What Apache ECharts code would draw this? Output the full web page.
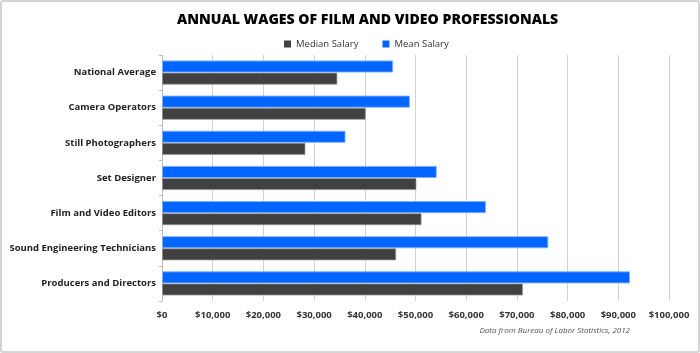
<!DOCTYPE html>
<html><head><meta charset="utf-8">
<script src="https://cdn.jsdelivr.net/npm/echarts@6/dist/echarts.min.js"></script>
<style>
html,body{margin:0;padding:0;background:#fff;}
#frame{position:absolute;left:0;top:0;width:696px;height:349px;border:2px solid #d4d4d4;border-radius:3px;}
#c{position:absolute;left:0;top:0;width:700px;height:353px;}
</style></head>
<body><div id="frame"></div><div id="c"></div>
<script>
const categories = ["National Average","Camera Operators","Still Photographers","Set Designer","Film and Video Editors","Sound Engineering Technicians","Producers and Directors"];
const medianSalary = [34600, 40200, 28300, 50200, 51200, 46200, 71200];
const meanSalary = [45600, 48900, 36200, 54200, 63900, 76200, 92300];
const xTicks = [0,10000,20000,30000,40000,50000,60000,70000,80000,90000,100000];
const titleText = "ANNUAL WAGES OF FILM AND VIDEO PROFESSIONALS";
const sourceText = "Data from Bureau of Labor Statistics, 2012";

const chart = echarts.init(document.getElementById('c'), null, {renderer:'canvas'});
const font = '"Open Sans", "Noto Sans", sans-serif';
chart.setOption({
  animation:false,
  textStyle:{fontFamily:font},
  title:[{text:titleText,left:172,top:8,textStyle:{fontFamily:font,fontSize:14.1,fontWeight:800,color:'#000'}},
         {text:sourceText,right:65,top:322,textStyle:{fontFamily:font,fontSize:8,fontStyle:'italic',fontWeight:'normal',color:'#555'}}],
  legend:{data:['Median Salary','Mean Salary'],top:34,left:279,itemWidth:7,itemHeight:7,icon:'rect',itemGap:24,
    itemStyle:{borderWidth:0},
    textStyle:{fontFamily:font,fontSize:9.5,color:'#333'}},
  grid:{left:162,right:31,top:55,bottom:52,containLabel:false,outerBoundsMode:'none'},
  xAxis:{type:'value',min:0,max:100000,interval:10000,
    axisLine:{show:false},axisTick:{show:false},
    splitLine:{lineStyle:{color:'#d0d0d0',width:1}},
    axisLabel:{fontFamily:font,fontSize:9.5,fontWeight:'bold',color:'#333',margin:9,
      formatter:v=>'$'+v.toLocaleString('en-US')}},
  yAxis:{type:'category',data:categories,inverse:true,
    axisLine:{show:true,lineStyle:{color:'#bbb'}},
    axisTick:{show:true,length:3,lineStyle:{color:'#bbb'}},
    axisLabel:{fontFamily:font,fontSize:9.5,fontWeight:'bold',color:'#222',margin:6}},
  series:[
    {name:'Mean Salary',type:'bar',data:meanSalary,barGap:'0%',barCategoryGap:'31%',
      itemStyle:{color:'#0066ff',borderColor:'rgba(130,175,255,0.9)',borderWidth:1}},
    {name:'Median Salary',type:'bar',data:medianSalary,barGap:'0%',barCategoryGap:'31%',
      itemStyle:{color:'#414141',borderColor:'rgba(150,150,150,0.7)',borderWidth:1}}
  ]
});
</script></body></html>
